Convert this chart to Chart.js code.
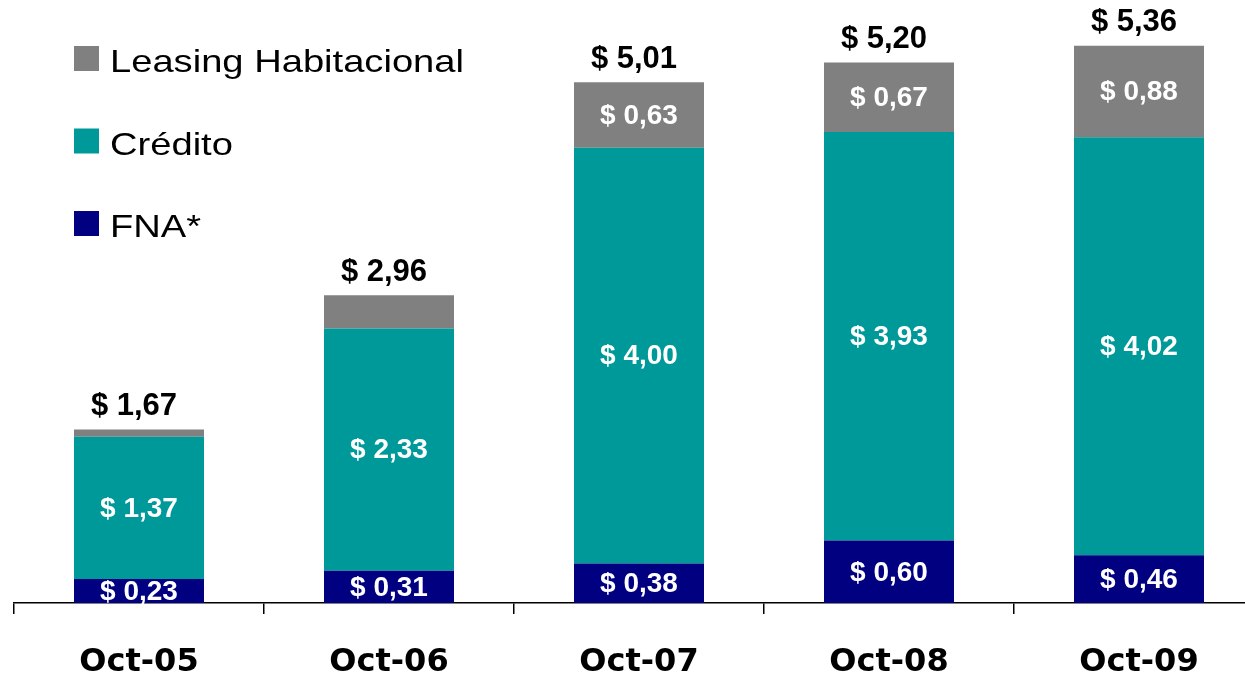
<!DOCTYPE html>
<html>
<head>
<meta charset="utf-8">
<script src="https://cdn.jsdelivr.net/npm/chart.js@4/dist/chart.umd.min.js"></script>
<style>
html,body{margin:0;padding:0;background:#fff;overflow:hidden;}
#wrap{position:relative;width:1270px;height:678px;}
</style>
</head>
<body>
<div id="wrap"><canvas id="c"></canvas></div>
<script>
const categories = ['Oct-05', 'Oct-06', 'Oct-07', 'Oct-08', 'Oct-09'];
const fna = [0.23, 0.31, 0.38, 0.60, 0.46];
const credito = [1.37, 2.33, 4.00, 3.93, 4.02];
const leasing = [0.07, 0.32, 0.63, 0.67, 0.88];
const seriesNames = ['FNA*', 'Crédito', 'Leasing Habitacional'];
const seriesColors = ['#000080', '#009999', '#808080'];
// which segment labels are printed (per series, per category)
const showLabels = [
  [true, true, true, true, true],
  [true, true, true, true, true],
  [false, false, true, true, true]
];

const fmt = v => '$ ' + v.toFixed(2).replace('.', ',');

const labelPlugin = {
  id: 'barLabels',
  afterDatasetsDraw(chart) {
    const ctx = chart.ctx;
    ctx.save();
    ctx.textAlign = 'center';
    ctx.textBaseline = 'middle';
    ctx.fillStyle = '#fff';
    ctx.font = 'bold 28px "Liberation Sans", Arial, sans-serif';
    chart.data.datasets.forEach((ds, di) => {
      const meta = chart.getDatasetMeta(di);
      meta.data.forEach((bar, i) => {
        if (!showLabels[di][i]) return;
        const yc = (bar.y + bar.base) / 2 + 1;
        ctx.fillText(fmt(ds.data[i]), bar.x, yc);
      });
    });
    const last = chart.getDatasetMeta(chart.data.datasets.length - 1);
    ctx.fillStyle = '#000';
    ctx.font = 'bold 31px "Liberation Sans", Arial, sans-serif';
    categories.forEach((c, i) => {
      let total = 0;
      chart.data.datasets.forEach(ds => total += ds.data[i]);
      const bar = last.data[i];
      ctx.fillText(fmt(total), bar.x - 5, bar.y - 23);
    });
    ctx.restore();
  }
};

const legendPlugin = {
  id: 'customLegend',
  afterDraw(chart) {
    const ctx = chart.ctx;
    ctx.save();
    const order = [2, 1, 0];
    order.forEach((di, k) => {
      const top = 46 + k * 82.5;
      ctx.fillStyle = seriesColors[di];
      ctx.fillRect(74, top, 25, 25);
      ctx.save();
      ctx.translate(110, top + 26);
      ctx.scale(1.25, 1);
      ctx.fillStyle = '#000';
      ctx.font = '30.5px "Liberation Sans", Arial, sans-serif';
      ctx.textAlign = 'left';
      ctx.textBaseline = 'alphabetic';
      ctx.fillText(chart.data.datasets[di].label, 0, 0);
      ctx.restore();
    });
    ctx.restore();
  }
};

const values = [fna, credito, leasing];
new Chart(document.getElementById('c'), {
  type: 'bar',
  data: {
    labels: categories,
    datasets: values.map((arr, i) => ({
      label: seriesNames[i],
      data: arr,
      backgroundColor: seriesColors[i],
      borderWidth: 0,
      barPercentage: 0.52,
      categoryPercentage: 1.0
    }))
  },
  options: {
    responsive: true,
    maintainAspectRatio: false,
    animation: false,
    layout: { padding: { left: 14, right: 6, top: 0, bottom: 0 } },
    plugins: { legend: { display: false }, tooltip: { enabled: false } },
    scales: {
      x: {
        stacked: true,
        afterFit(scale) { scale.height = 75; },
        grid: { display: true, drawOnChartArea: false, drawTicks: true, tickLength: 11, color: '#000', lineWidth: 1.5 },
        border: { display: true, color: '#000', width: 1.5 },
        ticks: { color: '#000', padding: 33, font: { family: 'DejaVu Sans', size: 32, weight: 'bold', lineHeight: 1.0 } }
      },
      y: { stacked: true, display: false, min: 0, max: 5.8 }
    }
  },
  plugins: [labelPlugin, legendPlugin]
});
</script>
</body>
</html>
